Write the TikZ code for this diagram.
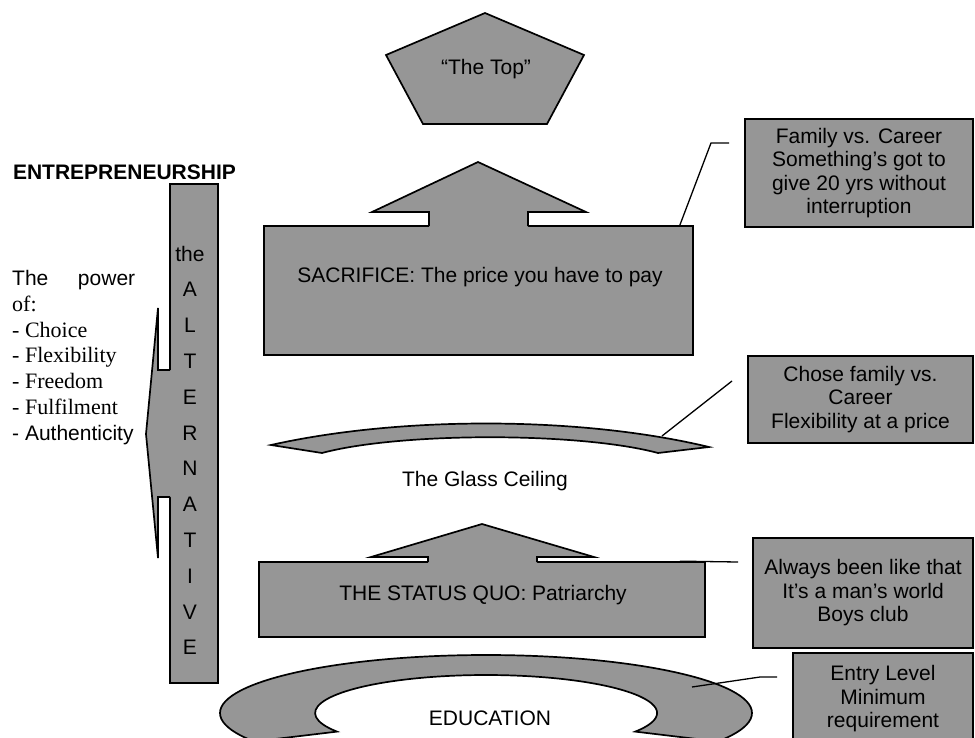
\documentclass[tikz,border=0pt]{standalone}
\usepackage{fontspec}
\setmainfont{Liberation Sans}
\newfontfamily\timesfont{Liberation Serif}
\definecolor{boxgray}{RGB}{150,150,150}
\tikzset{
  shapebox/.style={draw=black, fill=boxgray, line width=1.7pt, inner sep=0pt},
  callout/.style={shapebox, align=center, font=\fontsize{21}{23.5}\selectfont},
  txt/.style={inner sep=0pt, font=\fontsize{21}{25}\selectfont},
  serif/.style={inner sep=0pt, font=\timesfont\fontsize{22}{25}\selectfont},
  leader/.style={draw=black, line width=1.3pt}
}
\begin{document}
\begin{tikzpicture}[x=1pt,y=-1pt]
\useasboundingbox (0,0) rectangle (975,737);
\clip (0,0) rectangle (975,737);

% Drawing pentagon The Top
\draw[shapebox] (485,13) -- (584,55) -- (547,124) -- (423,124) -- (386,55) -- cycle;
\node[txt, anchor=base] (top) at (486,74) {“The Top”};

% Drawing box SACRIFICE with its arrow
\node[shapebox, minimum width=429pt, minimum height=129pt] (sacrifice) at (478.5,290.5) {};
\fill[boxgray] (429,227.5) -- (429,212) -- (372,212) -- (478,162) -- (586,212) -- (528,212) -- (528,227.5) -- cycle;
\draw[line width=1.7pt] (429,226) -- (429,212) -- (372,212) -- (478,162) -- (586,212) -- (528,212) -- (528,226);
\node[txt, anchor=base] (sacrificetext) at (480,282) {SACRIFICE: The price you have to pay};

% Drawing callout family vs career
\node[callout, minimum width=228pt, minimum height=108pt] (famcareer) at (859,173) {Family vs. Career\\Something’s got to\\give 20 yrs without\\interruption};
\coordinate (famknee) at (711,143);
\coordinate (famend) at (729,143);
\draw[leader] ([xshift=-14pt]sacrifice.north east) -- (famknee) -- (famend);

% Drawing the glass ceiling
\draw[shapebox] (271,445) .. controls (400,416) and (580,416) .. (709,447) -- (658,453) .. controls (580,432) and (400,432) .. (322,453) -- cycle;
\node[txt, anchor=base] (glass) at (485,486) {The Glass Ceiling};

% Drawing callout chose family
\node[callout, minimum width=225pt, minimum height=87pt] (chose) at (860.5,399.5) {Chose family vs.\\Career\\Flexibility at a price};
\coordinate (glassstart) at (662,436);
\coordinate (choseend) at (732,381);
\draw[leader] (glassstart) -- (choseend);

% Drawing box STATUS QUO with its arrow
\node[shapebox, minimum width=446pt, minimum height=75pt] (statusquo) at (482,599.5) {};
\fill[boxgray] (428,563.5) -- (428,557) -- (371,557) -- (482,524) -- (594,557) -- (537,557) -- (537,563.5) -- cycle;
\draw[line width=1.7pt] (428,562) -- (428,557) -- (371,557) -- (482,524) -- (594,557) -- (537,557) -- (537,562);
\node[txt, anchor=base] (statustext) at (483,600.5) {THE STATUS QUO: Patriarchy};

% Drawing callout always been like that
\node[callout, minimum width=220pt, minimum height=110pt] (always) at (863,593) {Always been like that\\It’s a man’s world\\Boys club};
\coordinate (alwaysend) at (738,562);
\draw[leader] ([xshift=-26pt]statusquo.north east) -- (alwaysend);

% Drawing EDUCATION
\draw[shapebox] (486,713) ellipse [x radius=266pt, y radius=58pt];
\filldraw[fill=white, draw=black, line width=1.7pt] (250,742) -- (337,731.6) arc[start angle=209.3, end angle=-29.3, x radius=171pt, y radius=38pt] -- (722,742) -- cycle;
\node[txt, anchor=base] (education) at (490,725.5) {EDUCATION};

% Drawing callout entry level
\node[callout, minimum width=180pt, minimum height=92pt] (entry) at (883,699) {Entry Level\\Minimum\\requirement};
\coordinate (edustart) at (692,687);
\coordinate (eduknee) at (760,677);
\coordinate (eduend) at (777,677);
\draw[leader] (edustart) -- (eduknee) -- (eduend);

% Drawing bar the ALTERNATIVE with its arrow
\node[shapebox, minimum width=48pt, minimum height=499pt] (alternative) at (194,433.5) {};
\fill[boxgray] (171,370) -- (158,370) -- (158,308) -- (146,434) -- (158,558) -- (158,497) -- (171,497) -- cycle;
\draw[line width=1.7pt] (170,370) -- (158,370) -- (158,308) -- (146,434) -- (158,558) -- (158,497) -- (170,497);
\foreach \ch [count=\i from 0] in {the,A,L,T,E,R,N,A,T,I,V,E}
  \node[txt, anchor=base] (alt\i) at (190,261+35.8*\i) {\ch};

% Writing ENTREPRENEURSHIP and the list
\node[txt, font=\bfseries\fontsize{21}{25}\selectfont, anchor=base] (entre) at (124.5,179.5) {ENTREPRENEURSHIP};
\node[txt, anchor=base west, text width=123pt, align=left] (power) at (12,285) {The\hfill power};
\node[serif, anchor=base west] (of) at (12,311) {of:};
\node[serif, anchor=base west] (choice) at (12,337) {- Choice};
\node[serif, anchor=base west] (flex) at (12,362) {- Flexibility};
\node[serif, anchor=base west] (freedom) at (12,388) {- Freedom};
\node[serif, anchor=base west] (fulfil) at (12,414) {- Fulfilment};
\node[txt, anchor=base west] (authentic) at (12,440) {- Authenticity};
\end{tikzpicture}
\end{document}
